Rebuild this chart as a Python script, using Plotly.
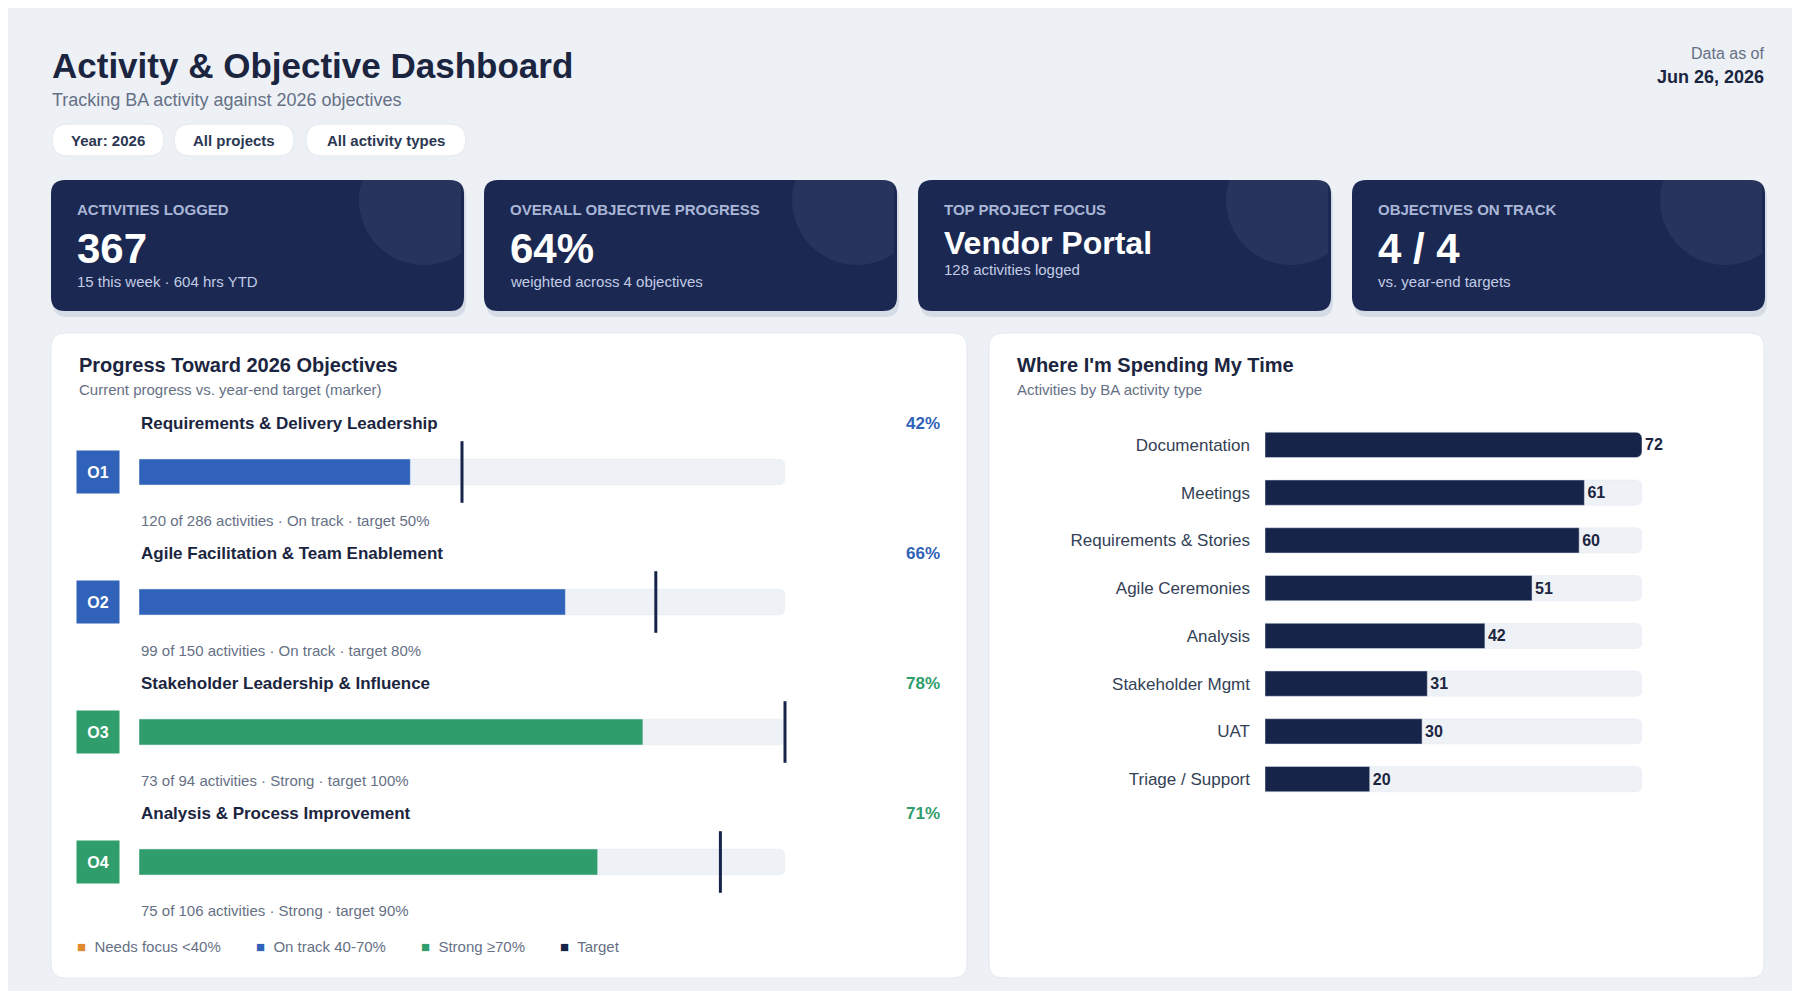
import math
import plotly.graph_objects as go

W, H = 1800, 991
FONT = "Liberation Sans"
NAVY = "#17244a"
BLUE = "#2f62b8"
GREEN = "#2f9e6c"
ORANGE = "#e08a2e"
TRACK = "#eef1f5"

# objectives
obj_ids = ["O1", "O2", "O3", "O4"]
obj_names = ["Requirements & Delivery Leadership", "Agile Facilitation & Team Enablement",
             "Stakeholder Leadership & Influence", "Analysis & Process Improvement"]
obj_progress = [42, 66, 78, 71]
obj_targets = [50, 80, 100, 90]
obj_done = [120, 99, 73, 75]
obj_total = [286, 150, 94, 106]
obj_status = ["On track", "On track", "Strong", "Strong"]

# activity types
act_types = ["Documentation", "Meetings", "Requirements & Stories", "Agile Ceremonies",
             "Analysis", "Stakeholder Mgmt", "UAT", "Triage / Support"]
act_counts = [72, 61, 60, 51, 42, 31, 30, 20]

# kpi cards
kpi_labels = ["ACTIVITIES LOGGED", "OVERALL OBJECTIVE PROGRESS", "TOP PROJECT FOCUS", "OBJECTIVES ON TRACK"]
kpi_values = ["367", "64%", "Vendor Portal", "4 / 4"]
kpi_subs = ["15 this week · 604 hrs YTD", "weighted across 4 objectives", "128 activities logged", "vs. year-end targets"]


def px(x):
    return x / W


def py(y):
    return 1 - y / H


def rrect(x0, y0, x1, y1, r):
    return (f"M {px(x0 + r)} {py(y0)} L {px(x1 - r)} {py(y0)} Q {px(x1)} {py(y0)} {px(x1)} {py(y0 + r)} "
            f"L {px(x1)} {py(y1 - r)} Q {px(x1)} {py(y1)} {px(x1 - r)} {py(y1)} "
            f"L {px(x0 + r)} {py(y1)} Q {px(x0)} {py(y1)} {px(x0)} {py(y1 - r)} "
            f"L {px(x0)} {py(y0 + r)} Q {px(x0)} {py(y0)} {px(x0 + r)} {py(y0)} Z")


def clipped_circle(cx, cy, r, x0, y0, x1, y1):
    pts = []
    for k in range(73):
        a = 2 * math.pi * k / 72
        x = min(max(cx + r * math.cos(a), x0), x1)
        y = min(max(cy + r * math.sin(a), y0), y1)
        pts.append(f"{px(x)} {py(y)}")
    return "M " + " L ".join(pts) + " Z"


def note(x, y, text, size, color, anchor="left"):
    return dict(x=px(x), y=py(y), xref="paper", yref="paper", xanchor=anchor, yanchor="middle",
                text=text, showarrow=False, font=dict(size=size, color=color))


fig = go.Figure()
shapes = []
ann = []

# pills
for x0, x1, t in [(44, 156, "Year: 2026"), (166, 286, "All projects"), (298, 458, "All activity types")]:
    shapes.append(dict(type="path", path=rrect(x0, 116, x1, 148, 16), xref="paper", yref="paper",
                       fillcolor="white", line=dict(color="#e2e7ef", width=1), layer="below"))
    ann.append(note((x0 + x1) / 2, 132, f"<b>{t}</b>", 15, "#2b3752", "center"))

# kpi cards
card_x = [43, 476, 910, 1344]
for i, x0 in enumerate(card_x):
    x1 = x0 + 413
    shapes.append(dict(type="path", path=rrect(x0 + 2, 176, x1 + 2, 309, 14), xref="paper", yref="paper",
                       fillcolor="rgba(23,36,74,0.10)", line=dict(width=0), layer="below"))
    shapes.append(dict(type="path", path=rrect(x0, 172, x1, 303, 14), xref="paper", yref="paper",
                       fillcolor="#1a2852", line=dict(width=0), layer="below"))
    shapes.append(dict(type="path", path=clipped_circle(x1 - 40, 192, 65, x0, 172, x1 - 3, 303),
                       xref="paper", yref="paper", fillcolor="rgba(255,255,255,0.06)",
                       line=dict(width=0), layer="below"))
    ann.append(note(x0 + 24, 201, f"<b>{kpi_labels[i]}</b>", 15, "#aab6d6"))
    big = i != 2
    ann.append(note(x0 + 24, 240 if big else 235, f"<b>{kpi_values[i]}</b>", 42 if big else 32, "white"))
    ann.append(note(x0 + 24, 273 if big else 262, kpi_subs[i], 15, "#c3cce4"))

# panels
for x0, x1 in [(43, 959), (981, 1756)]:
    shapes.append(dict(type="path", path=rrect(x0, 325, x1, 970, 14), xref="paper", yref="paper",
                       fillcolor="white", line=dict(color="#e3e7ee", width=1), layer="below"))

# header
ann += [
    note(42, 57, "<b>Activity & Objective Dashboard</b>", 35, "#1b2540"),
    note(42, 92, "Tracking BA activity against 2026 objectives", 18, "#667085"),
    note(1758, 46, "Data as of", 16, "#667085", "right"),
    note(1758, 69, "<b>Jun 26, 2026</b>", 18, "#1b2540", "right"),
    note(69, 357, "<b>Progress Toward 2026 Objectives</b>", 20, "#1b2540"),
    note(69, 381, "Current progress vs. year-end target (marker)", 15, "#667085"),
    note(1007, 357, "<b>Where I'm Spending My Time</b>", 20, "#1b2540"),
    note(1007, 381, "Activities by BA activity type", 15, "#667085"),
]

# legend
for x, c, t in [(67, ORANGE, "Needs focus <40%"), (246, BLUE, "On track 40-70%"),
                (411, GREEN, "Strong ≥70%"), (550, NAVY, "Target")]:
    ann.append(note(x, 938, f"<span style='color:{c}'>■</span>  {t}", 15, "#667085"))

# left chart
idx = list(range(len(obj_ids)))
colors = [GREEN if p >= 70 else BLUE if p >= 40 else ORANGE for p in obj_progress]
fig.add_trace(go.Bar(x=[100] * 4, y=idx, orientation="h", marker_color=TRACK, width=0.2,
                     hoverinfo="skip", xaxis="x", yaxis="y"))
fig.add_trace(go.Bar(x=obj_progress, y=idx, orientation="h", marker_color=colors, width=0.2,
                     xaxis="x", yaxis="y"))
fig.add_trace(go.Scatter(x=obj_targets, y=idx, mode="markers", cliponaxis=False,
                         marker=dict(symbol="line-ns", size=44, line=dict(width=3, color=NAVY)),
                         xaxis="x", yaxis="y"))
for i in idx:
    ann.append(dict(x=px(131), xref="paper", y=i - 0.37, yref="y", xanchor="left", showarrow=False,
                    text=f"<b>{obj_names[i]}</b>", font=dict(size=17, color="#1b2540")))
    ann.append(dict(x=px(934), xref="paper", y=i - 0.37, yref="y", xanchor="right", showarrow=False,
                    text=f"<b>{obj_progress[i]}%</b>", font=dict(size=17, color=colors[i])))
    ann.append(dict(x=px(131), xref="paper", y=i + 0.37, yref="y", xanchor="left", showarrow=False,
                    text=f"{obj_done[i]} of {obj_total[i]} activities · {obj_status[i]} · target {obj_targets[i]}%",
                    font=dict(size=15, color="#667085")))
    ann.append(dict(x=px(90), xref="paper", y=i, yref="y", xanchor="center", showarrow=False,
                    text=f"<b>{obj_ids[i]}</b>", bgcolor=colors[i], width=40, height=40,
                    font=dict(size=16, color="white")))

# right chart
fig.add_trace(go.Bar(x=[max(act_counts)] * len(act_types), y=act_types, orientation="h", marker_color=TRACK,
                     width=0.53, hoverinfo="skip", xaxis="x2", yaxis="y2"))
fig.add_trace(go.Bar(x=act_counts, y=act_types, orientation="h", marker_color=NAVY, width=0.53,
                     text=[f"<b>{v}</b>" for v in act_counts], textposition="outside", cliponaxis=False,
                     textfont=dict(size=16, color="#1b2540"), xaxis="x2", yaxis="y2"))

fig.update_layout(
    width=W, height=H, margin=dict(l=0, r=0, t=0, b=0),
    paper_bgcolor="#edf1f6", plot_bgcolor="rgba(0,0,0,0)",
    font=dict(family=FONT), showlegend=False, barmode="overlay", barcornerradius=6,
    shapes=shapes, annotations=ann,
    xaxis=dict(domain=[px(131), px(777)], range=[0, 100], visible=False, fixedrange=True),
    yaxis=dict(domain=[py(919), py(399)], range=[3.5, -0.5], visible=False),
    xaxis2=dict(domain=[px(1257), px(1634)], range=[0, 72], visible=False),
    yaxis2=dict(domain=[py(795), py(413)], autorange="reversed", anchor="x2", showgrid=False,
                ticks="", ticklabelstandoff=14, tickfont=dict(size=17, color="#334155"), showline=False),
)

fig.write_html("out.html")
